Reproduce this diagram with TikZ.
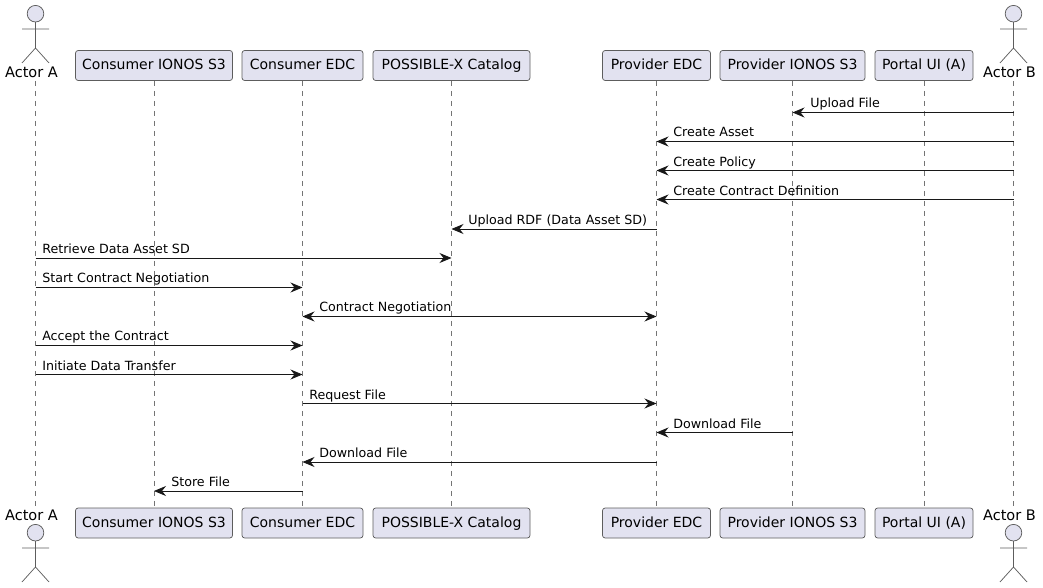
\documentclass[tikz,border=0pt]{standalone}
\usepackage{fontspec}
\setmainfont{DejaVu Sans}
\usetikzlibrary{arrows.meta}
\definecolor{partfill}{HTML}{E2E2F0}
\definecolor{partline}{HTML}{181818}
\tikzset{
	tip/.tip={Stealth[length=9pt,width=7.5pt,inset=3pt]},
	partbox/.style={draw=partline!70, fill=partfill, line width=.55pt, rounded corners=2pt, font=\fontsize{10.5pt}{12pt}\selectfont, minimum height=22.5pt, inner xsep=5pt, inner ysep=0pt, text height=8pt, text depth=2pt},
	actorname/.style={font=\fontsize{10.9pt}{12pt}\selectfont, inner sep=0pt, text height=8pt, text depth=1pt},
	lifeline/.style={draw=partline!60, line width=.55pt, dash pattern=on 3.75pt off 3.75pt},
	msg/.style={draw=partline, line width=.6pt, -tip},
	dblmsg/.style={draw=partline, line width=.6pt, tip-tip},
	msgtext/.style={font=\fontsize{9.5pt}{12pt}\selectfont, anchor=base west, inner sep=0pt},
	stickman/.pic={
		\draw [draw=partline!70, fill=partfill, line width=.55pt] (0,13.7) circle (8.3);
		\draw [draw=partline!70, line width=.55pt] (0,22) -- (0,48) (-13.5,29) -- (13.5,29) (-13.5,63) -- (0,48) -- (13.5,63);
	}
}
\begin{document}
\begin{tikzpicture}[x=.75pt, y=-.75pt]
	\useasboundingbox (0,0) rectangle (1043,588);
	
	% participants, top row
	\node (actoraname) [actorname] at (31.5,73) {Actor A};
	\node (cs3top) [partbox, minimum width=117.75pt] at (154,65.5) {Consumer IONOS S3};
	\node (cedctop) [partbox, minimum width=90.75pt] at (302.5,65.5) {Consumer EDC};
	\node (cattop) [partbox, minimum width=117.75pt] at (451.5,65.5) {POSSIBLE-X Catalog};
	\node (pedctop) [partbox, minimum width=81pt] at (656.5,65.5) {Provider EDC};
	\node (ps3top) [partbox, minimum width=108.75pt] at (792.5,65.5) {Provider IONOS S3};
	\node (uitop) [partbox, minimum width=73.5pt] at (924,65.5) {Portal UI (A)};
	\node (actorbname) [actorname] at (1009.5,73) {Actor B};
	\coordinate (actoratop) at (35.5,81);
	\coordinate (actorbtop) at (1013.5,81);
	
	% participants, bottom row
	\node (actoranamebot) [actorname] at (31.5,516) {Actor A};
	\node (cs3bot) [partbox, minimum width=117.75pt] at (154,523) {Consumer IONOS S3};
	\node (cedcbot) [partbox, minimum width=90.75pt] at (302.5,523) {Consumer EDC};
	\node (catbot) [partbox, minimum width=117.75pt] at (451.5,523) {POSSIBLE-X Catalog};
	\node (pedcbot) [partbox, minimum width=81pt] at (656.5,523) {Provider EDC};
	\node (ps3bot) [partbox, minimum width=108.75pt] at (792.5,523) {Provider IONOS S3};
	\node (uibot) [partbox, minimum width=73.5pt] at (924,523) {Portal UI (A)};
	\node (actorbnamebot) [actorname] at (1009.5,516) {Actor B};
	\coordinate (actorabot) at (35.5,507);
	\coordinate (actorbbot) at (1013.5,507);
	
	\pic at (35.5,0) {stickman};
	\pic at (1013.5,0) {stickman};
	\pic at (35.5,519) {stickman};
	\pic at (1013.5,519) {stickman};
	
	% lifelines
	\draw [lifeline] (actoratop) -- (actorabot);
	\draw [lifeline] (cs3top) -- (cs3bot);
	\draw [lifeline] (cedctop) -- (cedcbot);
	\draw [lifeline] (cattop) -- (catbot);
	\draw [lifeline] (pedctop) -- (pedcbot);
	\draw [lifeline] (ps3top) -- (ps3bot);
	\draw [lifeline] (uitop) -- (uibot);
	\draw [lifeline] (actorbtop) -- (actorbbot);
	
	% message rows
	\coordinate (r1) at (0,112.5);
	\coordinate (r2) at (0,141.5);
	\coordinate (r3) at (0,170.5);
	\coordinate (r4) at (0,199.5);
	\coordinate (r5) at (0,229);
	\coordinate (r6) at (0,258);
	\coordinate (r7) at (0,287.5);
	\coordinate (r8) at (0,316.5);
	\coordinate (r9) at (0,345.5);
	\coordinate (r10) at (0,374.5);
	\coordinate (r11) at (0,403.5);
	\coordinate (r12) at (0,432.5);
	\coordinate (r13) at (0,462);
	\coordinate (r14) at (0,491);
	
	\draw [msg] (actorbtop |- r1) -- (ps3top |- r1);
	\draw [msg] (actorbtop |- r2) -- (pedctop |- r2);
	\draw [msg] (actorbtop |- r3) -- (pedctop |- r3);
	\draw [msg] (actorbtop |- r4) -- (pedctop |- r4);
	\draw [msg] (pedctop |- r5) -- (cattop |- r5);
	\draw [msg] (actoratop |- r6) -- (cattop |- r6);
	\draw [msg] (actoratop |- r7) -- (cedctop |- r7);
	\draw [dblmsg] (cedctop |- r8) -- (pedctop |- r8);
	\draw [msg] (actoratop |- r9) -- (cedctop |- r9);
	\draw [msg] (actoratop |- r10) -- (cedctop |- r10);
	\draw [msg] (cedctop |- r11) -- (pedctop |- r11);
	\draw [msg] (ps3top |- r12) -- (pedctop |- r12);
	\draw [msg] (pedctop |- r13) -- (cedctop |- r13);
	\draw [msg] (cedctop |- r14) -- (cs3top |- r14);
	
	% message labels
	\node (t1) [msgtext] at (810,108) {Upload File};
	\node (t2) [msgtext] at (673,137) {Create Asset};
	\node (t3) [msgtext] at (673,166.5) {Create Policy};
	\node (t4) [msgtext] at (673,195.5) {Create Contract Definition};
	\node (t5) [msgtext] at (468,224) {Upload RDF (Data Asset SD)};
	\node (t6) [msgtext] at (42,253.5) {Retrieve Data Asset SD};
	\node (t7) [msgtext] at (42,282.5) {Start Contract Negotiation};
	\node (t8) [msgtext] at (319,311) {Contract Negotiation};
	\node (t9) [msgtext] at (42,340) {Accept the Contract};
	\node (t10) [msgtext] at (42,370) {Initiate Data Transfer};
	\node (t11) [msgtext] at (309,399) {Request File};
	\node (t12) [msgtext] at (673,428) {Download File};
	\node (t13) [msgtext] at (319,457) {Download File};
	\node (t14) [msgtext] at (171,486) {Store File};
\end{tikzpicture}
\end{document}
